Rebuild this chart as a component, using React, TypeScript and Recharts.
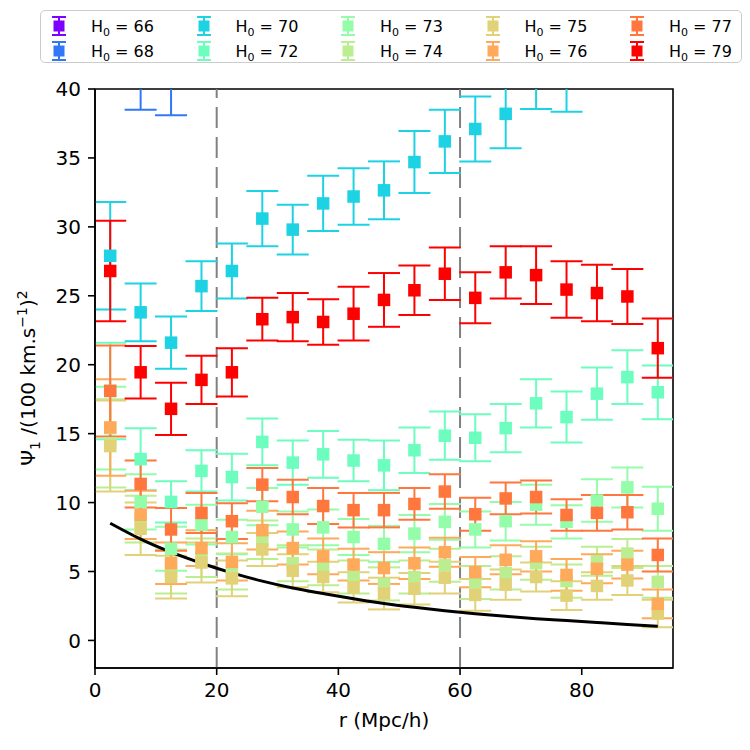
import React from "react";
import {
  ComposedChart,
  ErrorBar,
  Line,
  ReferenceArea,
  ReferenceLine,
  Scatter,
  XAxis,
  YAxis,
} from "recharts";

// bin centres in Mpc/h
const R = [
  2.5, 7.5, 12.5, 17.5, 22.5, 27.5, 32.5, 37.5, 42.5, 47.5, 52.5, 57.5, 62.5,
  67.5, 72.5, 77.5, 82.5, 87.5, 92.5,
];

// psi_1 per H0, with 1-sigma errors (null = no point in range)
const PSI_66: (number | null)[] = [];
const ERR_66: (number | null)[] = [];

const PSI_68 = [null, 41.0, 40.6];
const ERR_68 = [null, 2.5, 2.5];

const PSI_70 = [
  27.9, 23.8, 21.6, 25.7, 26.8, 30.6, 29.8, 31.7, 32.2, 32.65, 34.7, 36.2,
  37.1, 38.2, 41.0, 41.0,
];
const ERR_70 = [
  3.9, 2.1, 1.9, 1.8, 2.0, 2.0, 1.8, 2.0, 2.05, 2.1, 2.25, 2.3, 2.35, 2.5,
  2.45, 2.65,
];

const PSI_72 = [
  18.1, 13.15, 10.05, 12.3, 11.85, 14.4, 12.9, 13.5, 13.05, 12.7, 13.8, 14.85,
  14.7, 15.4, 17.2, 16.2, 17.9, 19.1, 18.0,
];
const ERR_72 = [
  3.5, 2.25, 1.5, 1.5, 1.7, 1.7, 1.6, 1.7, 1.5, 1.8, 1.65, 1.75, 1.7, 1.75,
  1.75, 1.85, 1.9, 1.95, 1.95,
];

const PSI_73 = [
  15.4, 10.05, 6.65, 8.4, 7.5, 9.7, 8.05, 8.2, 7.5, 7.0, 7.75, 8.6, 8.05, 8.65,
  9.85, 8.6, 10.15, 11.1, 9.55,
];
const ERR_73 = [
  3.0, 2.0, 1.6, 1.45, 1.25, 1.35, 1.3, 1.3, 1.3, 1.3, 1.35, 1.3, 1.3, 1.4,
  1.45, 1.2, 1.55, 1.45, 1.6,
];

const PSI_74 = [
  14.3, 8.8, 5.0, 6.0, 5.0, 7.3, 5.6, 5.3, 4.6, 4.1, 4.6, 5.45, 4.2, 4.9, 5.6,
  4.3, 5.75, 6.3, 4.25,
];
const ERR_74 = [
  3.2, 1.7, 1.6, 1.4, 1.3, 1.4, 1.3, 1.3, 1.2, 1.2, 1.2, 1.2, 1.2, 1.2, 1.2,
  1.2, 1.05, 1.05, 1.15,
];

const PSI_75 = [
  14.1, 8.1, 4.6, 5.65, 4.5, 6.6, 5.05, 4.6, 3.85, 3.4, 3.75, 4.55, 3.3, 4.05,
  4.6, 3.25, 3.95, 4.35, 1.95,
];
const ERR_75 = [
  3.3, 1.9, 1.55, 1.45, 1.3, 1.2, 1.2, 1.1, 1.1, 1.15, 1.15, 1.15, 1.15, 1.1,
  1.05, 1.05, 1.0, 1.05, 1.0,
];

const PSI_76 = [
  15.45, 9.1, 5.6, 6.7, 5.7, 8.0, 6.7, 6.1, 5.5, 5.25, 5.6, 6.4, 4.95, 5.85,
  6.1, 4.75, 5.2, 5.5, 2.65,
];
const ERR_76 = [
  3.5, 1.75, 1.5, 1.3, 1.35, 1.4, 1.2, 1.3, 1.15, 1.15, 1.15, 1.05, 1.1, 1.05,
  1.1, 1.15, 1.05, 1.0, 1.05,
];

const PSI_77 = [
  18.1, 11.35, 8.05, 9.25, 8.65, 11.3, 10.4, 9.75, 9.45, 9.45, 9.9, 10.8, 9.15,
  10.3, 10.4, 9.1, 9.25, 9.3, 6.2,
];
const ERR_77 = [
  3.3, 1.7, 1.55, 1.45, 1.3, 1.2, 1.25, 1.3, 1.25, 1.25, 1.15, 1.25, 1.2, 1.15,
  1.2, 1.15, 1.3, 1.25, 1.2,
];

const PSI_79 = [
  26.8, 19.45, 16.8, 18.9, 19.45, 23.3, 23.45, 23.1, 23.7, 24.7, 25.4, 26.6,
  24.85, 26.7, 26.5, 25.45, 25.2, 24.95, 21.2,
];
const ERR_79 = [
  3.65, 1.9, 1.9, 1.75, 1.75, 1.55, 1.75, 1.65, 1.95, 1.95, 1.8, 1.9, 1.85,
  1.9, 2.1, 2.05, 2.05, 2.0, 2.15,
];

// model prediction
const MODEL_PSI = [
  8.5, 7.35, 6.4, 5.6, 4.9, 4.3, 3.8, 3.4, 3.02, 2.68, 2.4, 2.15, 1.93, 1.75,
  1.58, 1.44, 1.3, 1.16, 1.03,
];

const X_TICKS = [0, 20, 40, 60, 80];
const Y_TICKS = [0, 5, 10, 15, 20, 25, 30, 35, 40];
const SPLITS = [20, 60];

// rainbow colormap sampled at (H0 - 66) / 13
const SERIES = [
  { h0: 66, color: "#8000ff", psi: PSI_66, err: ERR_66 },
  { h0: 68, color: "#3177f8", psi: PSI_68, err: ERR_68 },
  { h0: 70, color: "#1dd2e2", psi: PSI_70, err: ERR_70 },
  { h0: 72, color: "#6cfdbf", psi: PSI_72, err: ERR_72 },
  { h0: 73, color: "#93fda9", psi: PSI_73, err: ERR_73 },
  { h0: 74, color: "#baee91", psi: PSI_74, err: ERR_74 },
  { h0: 75, color: "#e2d277", psi: PSI_75, err: ERR_75 },
  { h0: 76, color: "#ffa95a", psi: PSI_76, err: ERR_76 },
  { h0: 77, color: "#ff773d", psi: PSI_77, err: ERR_77 },
  { h0: 79, color: "#ff0000", psi: PSI_79, err: ERR_79 },
];

const FONT = "'DejaVu Sans', sans-serif";

// chart geometry
const W = 750;
const H = 750;
const MARGIN = { top: 89, right: 77, bottom: 0, left: 0 };
const Y_AXIS_W = 95;
const X_AXIS_H = 82;
const PLOT = {
  x: MARGIN.left + Y_AXIS_W,
  y: MARGIN.top,
  w: W - MARGIN.left - MARGIN.right - Y_AXIS_W,
  h: H - MARGIN.top - MARGIN.bottom - X_AXIS_H,
};

function toPoints(psi: (number | null)[], err: (number | null)[]) {
  return psi
    .map((v, i) => ({ r: R[i], psi: v, err: err[i] }))
    .filter((p) => p.psi != null);
}

const modelData = R.map((r, i) => ({ r, psi: MODEL_PSI[i] }));

const Square = (props: any) => {
  const { cx, cy, fill } = props;
  if (cx == null || cy == null) return null;
  return <rect x={cx - 6.25} y={cy - 6.25} width={12.5} height={12.5} fill={fill} />;
};

const YLabel = () => (
  <text
    transform="translate(35, 378) rotate(-90)"
    textAnchor="middle"
    fontSize={20}
    fill="#000"
  >
    Ψ
    <tspan dy={5} fontSize={14}>1</tspan>
    <tspan dy={-5}> /(100 km.s</tspan>
    <tspan dy={-8} fontSize={14}>−1</tspan>
    <tspan dy={8}>)</tspan>
    <tspan dy={-8} fontSize={14}>2</tspan>
  </text>
);

function LegendIcon({ color }: { color: string }) {
  return (
    <svg width={16} height={22} style={{ display: "block" }}>
      <line x1={8} y1={2} x2={8} y2={20} stroke={color} strokeWidth={2} />
      <line x1={1} y1={2} x2={15} y2={2} stroke={color} strokeWidth={2} />
      <line x1={1} y1={20} x2={15} y2={20} stroke={color} strokeWidth={2} />
      <rect x={2.5} y={5.5} width={11} height={11} fill={color} />
    </svg>
  );
}

function Legend() {
  return (
    <div
      style={{
        position: "absolute",
        left: 40,
        top: 10,
        width: 702,
        height: 53,
        border: "1.5px solid #cccccc",
        borderRadius: 5,
        boxSizing: "border-box",
        background: "#fff",
      }}
    >
      {SERIES.map((s, i) => {
        const col = Math.floor(i / 2);
        const row = i % 2;
        return (
          <div
            key={s.h0}
            style={{
              position: "absolute",
              left: 10 + col * 144.5,
              top: 4 + row * 25,
              height: 22,
              display: "flex",
              alignItems: "center",
              fontSize: 16,
              color: "#000",
            }}
          >
            <LegendIcon color={s.color} />
            <span style={{ marginLeft: 24, whiteSpace: "nowrap" }}>
              H
              <span style={{ fontSize: 11, position: "relative", top: 4 }}>0</span>
              {" = " + s.h0}
            </span>
          </div>
        );
      })}
    </div>
  );
}

export default function App() {
  return (
    <div
      style={{
        position: "absolute",
        left: 0,
        top: 0,
        width: W,
        height: H,
        background: "#fff",
        fontFamily: FONT,
      }}
    >
      {/* recharts leaves error bars unclipped; clip them (and the markers) to the axes box */}
      <svg width={0} height={0} style={{ position: "absolute" }}>
        <defs>
          <clipPath id="plot-area" clipPathUnits="userSpaceOnUse">
            <rect x={PLOT.x} y={PLOT.y} width={PLOT.w} height={PLOT.h} />
          </clipPath>
        </defs>
      </svg>
      <style>{`
        .recharts-scatter,
        .recharts-errorBars,
        .recharts-errorBar,
        g[class*="errorBar"],
        g[class*="scatter"] line {
          clip-path: url(#plot-area);
        }
      `}</style>
      <ComposedChart width={W} height={H} margin={MARGIN}>
        <XAxis
          dataKey="r"
          type="number"
          domain={[0, 95]}
          ticks={X_TICKS}
          interval={0}
          allowDataOverflow
          height={X_AXIS_H}
          tickSize={7}
          tickMargin={8}
          axisLine={{ stroke: "#000", strokeWidth: 1.6 }}
          tickLine={{ stroke: "#000", strokeWidth: 1.6 }}
          tick={{ fill: "#000", fontSize: 20 }}
          label={{
            value: "r (Mpc/h)",
            position: "insideBottom",
            offset: 23,
            fill: "#000",
            fontSize: 20,
          }}
        />
        <YAxis
          type="number"
          domain={[-2, 40]}
          ticks={Y_TICKS}
          interval={0}
          allowDataOverflow
          width={Y_AXIS_W}
          tickSize={7}
          tickMargin={7}
          axisLine={{ stroke: "#000", strokeWidth: 1.6 }}
          tickLine={{ stroke: "#000", strokeWidth: 1.6 }}
          tick={{ fill: "#000", fontSize: 20 }}
          label={{ content: YLabel }}
        />
        {SPLITS.map((x) => (
          <ReferenceLine
            key={x}
            x={x}
            stroke="#808080"
            strokeWidth={2}
            strokeDasharray="21 9"
          />
        ))}
        {SERIES.map((s) => (
          <Scatter
            key={s.h0}
            name={`H0 = ${s.h0}`}
            data={toPoints(s.psi, s.err)}
            dataKey="psi"
            fill={s.color}
            shape={Square}
            isAnimationActive={false}
          >
            <ErrorBar
              dataKey="err"
              direction="y"
              width={16}
              stroke={s.color}
              strokeWidth={2}
            />
          </Scatter>
        ))}
        <Line
          data={modelData}
          dataKey="psi"
          type="monotone"
          stroke="#000"
          strokeWidth={3}
          dot={false}
          activeDot={false}
          isAnimationActive={false}
        />
        <ReferenceArea
          x1={0}
          x2={95}
          y1={-2}
          y2={40}
          fill="none"
          stroke="#000"
          strokeWidth={1.6}
        />
      </ComposedChart>
      <Legend />
    </div>
  );
}
